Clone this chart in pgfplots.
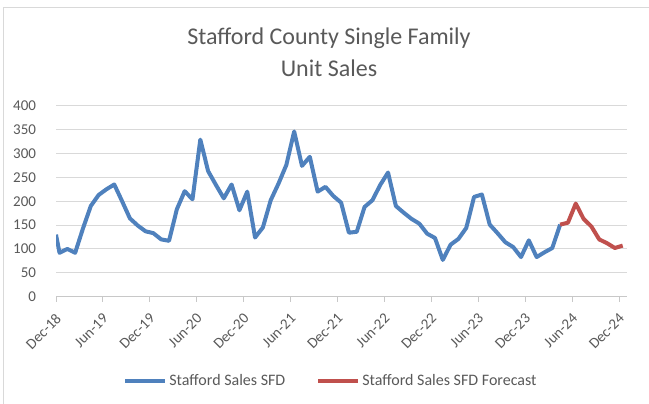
\documentclass[border=0pt]{standalone}
\usepackage{pgfplots}
\pgfplotsset{compat=1.18}
\usepackage{fontspec}
\setmainfont{Carlito}
\definecolor{sblue}{HTML}{4F81BD}
\definecolor{sred}{HTML}{C0504D}
\definecolor{txt}{RGB}{89,89,89}
\definecolor{gridc}{RGB}{217,217,217}
\definecolor{axc}{RGB}{200,200,200}
\begin{document}
\begin{tikzpicture}
\path[use as bounding box] (0,0) rectangle (649bp,404bp);
\draw[gridc, line width=1.5bp] (3.5bp,0) -- (3.5bp,396.3bp) -- (649bp,396.3bp);
\node[txt, font=\fontsize{24bp}{29bp}\selectfont, anchor=base] at (329bp,359bp) {Stafford County Single Family};
\node[txt, font=\fontsize{24bp}{29bp}\selectfont, anchor=base] at (329bp,327.3bp) {Unit Sales};
\begin{axis}[
  at={(56bp,107.3bp)}, anchor=south west, scale only axis,
  width=571bp, height=191bp,
  xmin=0, xmax=73, ymin=0, ymax=400,
  ytick={0,50,...,400},
  xtick={0,6,...,72},
  xticklabels={Dec-18,Jun-19,Dec-19,Jun-20,Dec-20,Jun-21,Dec-21,Jun-22,Dec-22,Jun-23,Dec-23,Jun-24,Dec-24},
  axis x line*=bottom, axis y line*=left,
  y axis line style={draw=none},
  x axis line style={axc, line width=1bp, -},
  ytick style={draw=none},
  xtick style={axc, line width=1bp},
  tick align=outside, major tick length=5bp,
  ymajorgrids, grid style={gridc, line width=1bp},
  /pgf/number format/assume math mode=true,
  yticklabel style={font=\fontsize{15bp}{18bp}\selectfont, text=txt, xshift=-11.5bp},
  xticklabel style={font=\fontsize{15bp}{18bp}\selectfont, text=txt, xshift=5bp, rotate=45, anchor=east},
  xticklabel shift=12bp,
  legend style={at={(0.4816,-0.441)}, anchor=center, draw=none, fill=none,
    font=\fontsize{16bp}{19bp}\selectfont, text=txt, legend columns=2,
    /tikz/every even column/.append style={column sep=29bp}},
  legend image code/.code={\draw[#1, line width=4bp] (0bp,0bp) -- (40bp,0bp);},
  clip=true,
]
\addplot[sblue, line width=4bp, line join=round] coordinates {
(0,130) (0.45,92) (1.45,100) (2.45,92) (3.45,143) (4.45,190) (5.45,213) (6.45,225)
(7.45,235) (8.45,200) (9.45,164) (10.45,149) (11.45,137) (12.45,133) (13.45,120)
(14.45,117) (15.45,183) (16.45,221) (17.45,204) (18.45,329) (19.45,263) (20.45,234)
(21.45,206) (22.45,235) (23.45,181) (24.45,220) (25.45,124) (26.45,145) (27.45,202)
(28.45,237) (29.45,276) (30.45,346) (31.45,274) (32.45,293) (33.45,220) (34.45,230)
(35.45,211) (36.45,197) (37.45,134) (38.45,136) (39.45,188) (40.45,202) (41.45,234)
(42.45,260) (43.45,190) (44.45,176) (45.45,163) (46.45,153) (47.45,132) (48.45,123)
(49.45,77) (50.45,109) (51.45,121) (52.45,144) (53.45,209) (54.45,214) (55.45,151)
(56.45,133) (57.45,114) (58.45,104) (59.45,83) (60.45,118) (61.45,83) (62.45,93)
(63.45,102) (64.45,151)
};
\addlegendentry{Stafford Sales SFD}
\addplot[sred, line width=4bp, line join=round] coordinates {
(64.45,151) (65.45,155) (66.45,195) (67.45,163) (68.45,147) (69.45,120) (70.45,112)
(71.45,102) (72.45,107)
};
\addlegendentry{Stafford Sales SFD Forecast}
\end{axis}
\end{tikzpicture}
\end{document}
